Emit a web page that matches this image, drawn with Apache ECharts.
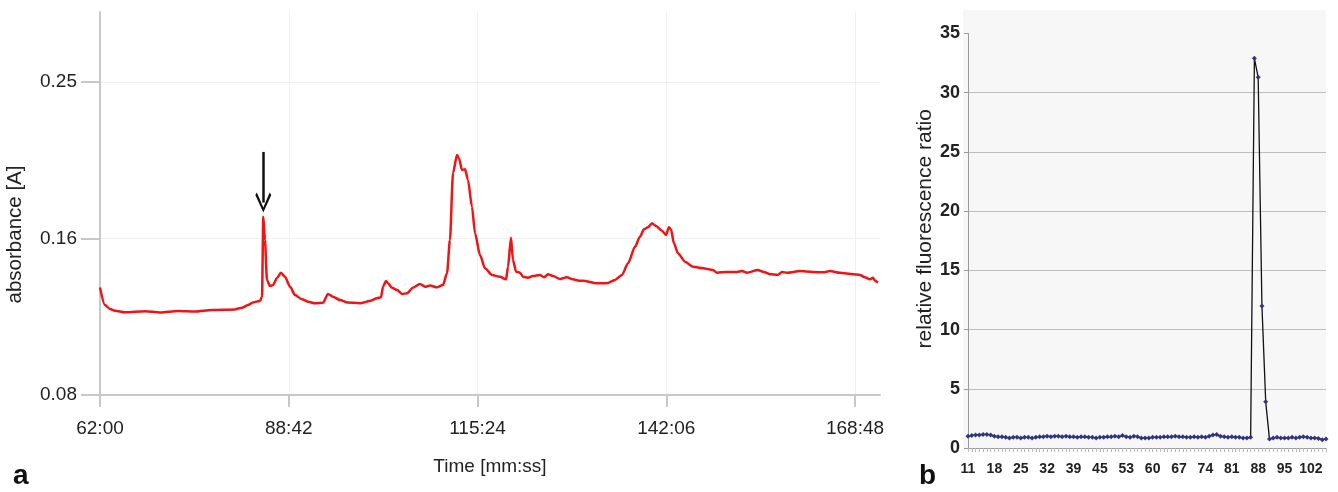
<!DOCTYPE html>
<html>
<head>
<meta charset="utf-8">
<script src="https://cdn.jsdelivr.net/npm/echarts@6/dist/echarts.min.js"></script>
<style>
  html, body { margin: 0; padding: 0; background: #fff; }
  #main { width: 1338px; height: 492px; }
</style>
</head>
<body>
<div id="main"></div>
<script>
// panel a: absorbance trace (time in seconds, absorbance in A)
var timeA = [3720, 3762, 3805, 3847, 3932, 4102, 4229, 4382, 4526, 4671, 4866, 4925, 4976, 5018, 5078, 5095,
  5106, 5120, 5137, 5163, 5188, 5222, 5256, 5290, 5333, 5375, 5434, 5485, 5545, 5613, 5655, 5697, 5757,
  5816, 5927, 6011, 6071, 6105, 6122, 6147, 6164, 6198, 6241, 6283, 6326, 6376, 6436, 6478, 6521, 6580,
  6631, 6665, 6690, 6716, 6750, 6767, 6792, 6818, 6843, 6877, 6903, 6945, 6988, 7047, 7115, 7166, 7183,
  7208, 7225, 7251, 7285, 7310, 7352, 7395, 7454, 7488, 7522, 7565, 7624, 7683, 7734, 7785, 7819, 7938,
  8023, 8091, 8150, 8201, 8261, 8303, 8337, 8371, 8405, 8439, 8490, 8524, 8549, 8566, 8591, 8625, 8685,
  8753, 8838, 8922, 8956, 9041, 9126, 9169, 9211, 9304, 9347, 9406, 9474, 9508, 9551, 9661, 9771, 9856,
  9916, 10000, 10111, 10170, 10212, 10255, 10280, 10297, 10323];
var absA = [0.1384, 0.1289, 0.1267, 0.1258, 0.1249, 0.1255, 0.1248, 0.1256, 0.1253, 0.1262, 0.1265, 0.1274,
  0.1289, 0.1303, 0.1311, 0.1334, 0.1768, 0.1642, 0.1425, 0.1392, 0.1397, 0.1435, 0.1464, 0.1442, 0.1388,
  0.1343, 0.1320, 0.1307, 0.1298, 0.1301, 0.1349, 0.1334, 0.1316, 0.1303, 0.1298, 0.1311, 0.1325, 0.1331,
  0.1388, 0.1419, 0.1407, 0.1383, 0.1370, 0.1349, 0.1352, 0.1383, 0.1403, 0.1388, 0.1394, 0.1385, 0.1397,
  0.1461, 0.1642, 0.2006, 0.2103, 0.2086, 0.2022, 0.2026, 0.1968, 0.1823, 0.1678, 0.1560, 0.1488, 0.1452,
  0.1442, 0.1428, 0.1497, 0.1654, 0.1533, 0.1470, 0.1464, 0.1442, 0.1437, 0.1446, 0.1452, 0.1439, 0.1456,
  0.1446, 0.1430, 0.1439, 0.1428, 0.1421, 0.1421, 0.1407, 0.1407, 0.1425, 0.1452, 0.1515, 0.1605, 0.1660,
  0.1700, 0.1711, 0.1733, 0.1718, 0.1692, 0.1669, 0.1711, 0.1700, 0.1624, 0.1570, 0.1524, 0.1497, 0.1488,
  0.1479, 0.1464, 0.1468, 0.1468, 0.1473, 0.1464, 0.1479, 0.1470, 0.1456, 0.1452, 0.1468, 0.1464, 0.1473,
  0.1468, 0.1466, 0.1473, 0.1464, 0.1456, 0.1452, 0.1439, 0.1428, 0.1437, 0.1421, 0.1410];
var xTicksA = [3720, 5322, 6924, 8526, 10128];
var yTicksA = [0.08, 0.165, 0.25];
var yLabelsA = ['0.08', '0.16', '0.25'];
var arrowA = { time: 5106, from: 0.212, to: 0.1845 };

// panel b: relative fluorescence ratio per fraction
var ratioB = [1.0, 1.05, 1.1, 1.1, 1.15, 1.15, 1.1, 1.0, 0.95, 0.95,
  0.9, 0.85, 0.9, 0.9, 0.85, 0.9, 0.9, 0.85, 0.9, 0.95,
  0.95, 1.0, 0.95, 1.0, 1.0, 0.95, 1.0, 0.95, 0.95, 0.9,
  0.95, 0.95, 0.9, 0.9, 0.85, 0.9, 0.9, 0.95, 0.95, 1.0,
  0.95, 1.05, 0.95, 0.9, 1.0, 0.95, 0.85, 0.85, 0.85, 0.9,
  0.9, 0.9, 0.95, 0.95, 0.95, 1.0, 0.95, 0.95, 0.9, 0.9,
  0.95, 0.9, 0.95, 0.9, 1.0, 1.1, 1.15, 1.0, 0.95, 0.9,
  0.95, 0.9, 0.9, 0.85, 0.85, 0.9, 32.9, 31.3, 12.0, 3.9,
  0.75, 0.85, 0.9, 0.85, 0.85, 0.85, 0.9, 0.85, 0.9, 0.95,
  0.9, 0.85, 0.85, 0.8, 0.7, 0.75];
var xTickLabelsB = ['11', '18', '25', '32', '39', '45', '53', '60', '67', '74', '81', '88', '95', '102'];

var FONT = 'Liberation Sans, Arial, sans-serif';

function mmss(s) {
  var m = Math.floor(s / 60), r = Math.round(s - m * 60);
  return m + ':' + (r < 10 ? '0' : '') + r;
}

var chart = echarts.init(document.getElementById('main'));
chart.setOption({
  backgroundColor: '#fff',
  animation: false,
  textStyle: { fontFamily: FONT },
  graphic: [
    { type: 'rect', z: -10, shape: { x: 963, y: 10, width: 363, height: 438 }, style: { fill: '#f7f7f7' } },
    { type: 'text', left: 13, top: 462, style: { text: 'a', font: 'bold 28px ' + FONT, fill: '#111' } },
    { type: 'text', left: 919, top: 462, style: { text: 'b', font: 'bold 28px ' + FONT, fill: '#111' } }
  ],
  grid: [
    { left: 100, top: 12, width: 780, height: 383, outerBoundsMode: 'none' },
    { left: 968, top: 33.5, width: 358, height: 414.5, outerBoundsMode: 'none' }
  ],
  xAxis: [{
    gridIndex: 0,
    type: 'value',
    min: 3720,
    max: 10340,
    name: 'Time [mm:ss]',
    nameLocation: 'middle',
    nameGap: 62,
    nameTextStyle: { fontSize: 19, color: '#222', fontFamily: FONT },
    axisLine: { show: true, onZero: false, lineStyle: { color: '#c8c8c8', width: 2 } },
    axisTick: { show: true, length: 12, customValues: xTicksA, lineStyle: { color: '#c8c8c8', width: 2 } },
    axisLabel: { customValues: xTicksA, margin: 24, fontSize: 19, color: '#222', fontFamily: FONT, formatter: mmss },
    splitLine: { show: true, lineStyle: { color: '#f0f0f0', width: 1 } }
  }, {
    gridIndex: 1,
    type: 'category',
    boundaryGap: false,
    data: ratioB.map(function (d, i) { return String(i); }),
    axisLine: { show: true, lineStyle: { color: '#9a9a9a', width: 1 } },
    axisTick: { show: true, interval: 0, length: 4, lineStyle: { color: '#bbbbbb' } },
    axisLabel: {
      interval: 6, margin: 14, fontSize: 14, fontWeight: 'bold', color: '#222', fontFamily: FONT,
      formatter: function (v) { return xTickLabelsB[Number(v) / 7] || ''; }
    },
    splitLine: { show: false }
  }],
  yAxis: [{
    gridIndex: 0,
    type: 'value',
    min: 0.08,
    max: 0.288,
    name: 'absorbance [A]',
    nameLocation: 'middle',
    nameGap: 74,
    nameTextStyle: { fontSize: 20.5, color: '#222', fontFamily: FONT, padding: [0, 62, 0, 0] },
    axisLine: { show: true, lineStyle: { color: '#c8c8c8', width: 2 } },
    axisTick: { show: true, length: 19, customValues: yTicksA, lineStyle: { color: '#c8c8c8', width: 2 } },
    axisLabel: {
      customValues: yTicksA, margin: 23, fontSize: 19, color: '#222', fontFamily: FONT,
      formatter: function (v) {
        for (var i = 0; i < yTicksA.length; i++) { if (Math.abs(yTicksA[i] - v) < 1e-6) return yLabelsA[i]; }
        return '';
      }
    },
    splitLine: { show: true, lineStyle: { color: '#f0f0f0', width: 1 } }
  }, {
    gridIndex: 1,
    type: 'value',
    min: 0,
    max: 35,
    interval: 5,
    name: 'relative fluorescence ratio',
    nameLocation: 'middle',
    nameGap: 32,
    nameTextStyle: { fontSize: 21, color: '#222', fontFamily: FONT, padding: [0, 0, 0, 24] },
    axisLine: { show: true, lineStyle: { color: '#9a9a9a', width: 1 } },
    axisTick: { show: true, length: 4, lineStyle: { color: '#9a9a9a' } },
    axisLabel: { margin: 8, fontSize: 18, fontWeight: 'bold', color: '#222', fontFamily: FONT },
    splitLine: { show: true, showMinLine: false, showMaxLine: false, lineStyle: { color: '#bdbdbd', width: 1 } }
  }],
  series: [{
    type: 'line',
    xAxisIndex: 0,
    yAxisIndex: 0,
    data: timeA.map(function (t, i) { return [t, absA[i]]; }),
    showSymbol: false,
    smooth: 0.25,
    smoothMonotone: 'x',
    lineStyle: { color: '#f01414', width: 2.5 },
    itemStyle: { color: '#f01414' },
    markLine: {
      silent: true,
      animation: false,
      label: { show: false },
      lineStyle: { color: '#111', width: 2.5, type: 'solid' },
      data: [[
        { coord: [arrowA.time, arrowA.from], symbol: 'none' },
        { coord: [arrowA.time, arrowA.to], symbol: 'path://M10,0 L20,14 L18,16 L10,4 L2,16 L0,14 Z', symbolSize: [16, 20] }
      ]]
    }
  }, {
    type: 'line',
    xAxisIndex: 1,
    yAxisIndex: 1,
    data: ratioB,
    symbol: 'diamond',
    symbolSize: 5,
    showAllSymbol: true,
    itemStyle: { color: '#34347e' },
    lineStyle: { color: '#111', width: 1.3 }
  }]
});
</script>
</body>
</html>
